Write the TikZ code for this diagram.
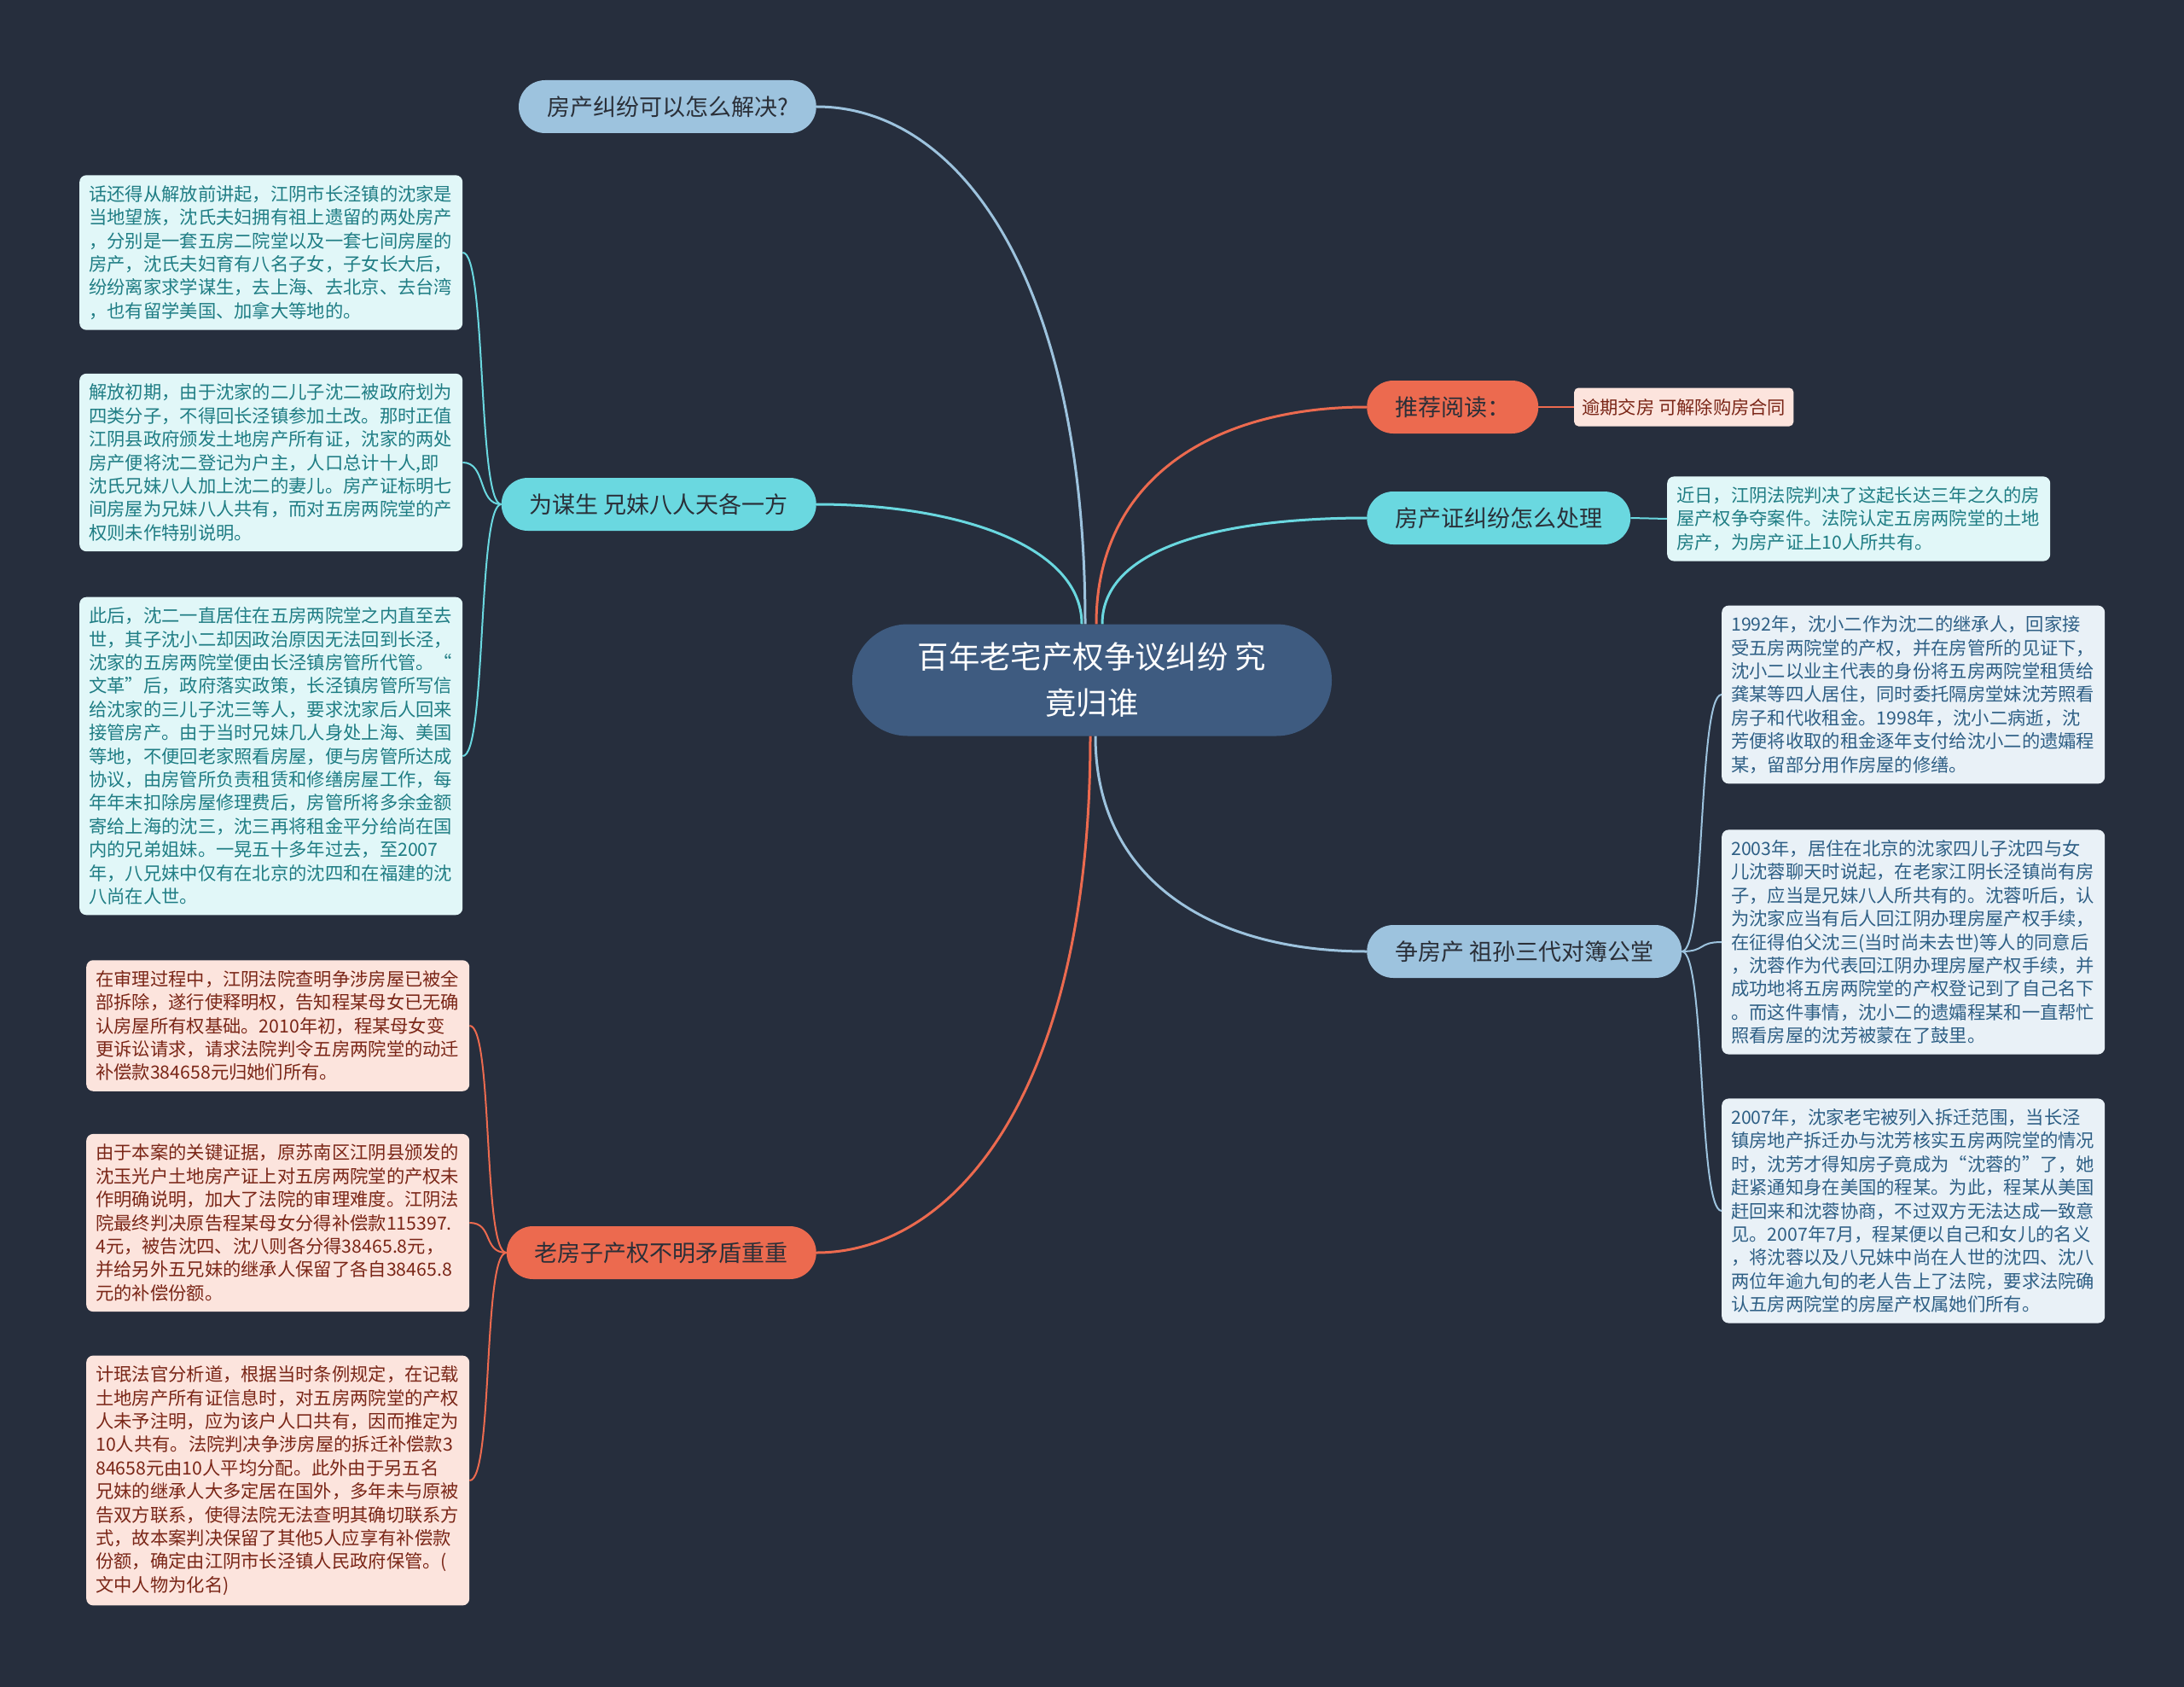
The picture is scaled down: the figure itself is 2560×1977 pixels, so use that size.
\documentclass[tikz,border=0pt]{standalone}
\usepackage{fontspec}
\setmainfont{Noto Sans CJK SC}
\usepackage{tikz}
\usetikzlibrary{calc}

\definecolor{bgdark}{HTML}{262E3D}
\definecolor{rootblue}{HTML}{3E5B80}
\definecolor{lblue}{HTML}{9DC3DE}
\definecolor{cyanb}{HTML}{6AD8E0}
\definecolor{orangeb}{HTML}{EC6A4F}
\definecolor{leafcyan}{HTML}{E1F7F8}
\definecolor{textcyan}{HTML}{1F7D84}
\definecolor{leafred}{HTML}{FCE4DD}
\definecolor{textred}{HTML}{7A2617}
\definecolor{leafblue}{HTML}{E9F1F7}
\definecolor{textblue}{HTML}{2E5F85}
\definecolor{inkdark}{HTML}{2A2F38}

\newcommand{\leaffont}{\fontsize{21.3}{27.4}\selectfont}
\newcommand{\branchfont}{\fontsize{27}{32}\selectfont}
\newcommand{\rootfont}{\fontsize{36.4}{54}\selectfont}
\newcommand{\linkfont}{\fontsize{21.3}{26}\selectfont}

\begin{document}
\begin{tikzpicture}[x=1pt,y=-1pt,
  line cap=round,
  line join=round,
  every node/.style={font=\leaffont},
  rootbox/.style={rectangle,rounded corners=65pt,fill=rootblue,text=white,
    minimum width=562pt,minimum height=131pt,align=center,font=\rootfont},
  branch/.style={rectangle,rounded corners=31pt,minimum height=62pt,
    inner xsep=33pt,inner ysep=0pt,font=\branchfont,text=inkdark},
  leaf/.style={rectangle,rounded corners=8pt,text width=427pt,align=left,
    inner xsep=11pt,inner ysep=12pt,font=\leaffont},
  mainline/.style={line width=3pt,line cap=butt},
  leafline/.style={line width=2pt,line cap=butt}]

  % 背景
  \fill[bgdark] (0,0) rectangle (2560,1977);
  \useasboundingbox (0,0) rectangle (2560,1977);

  % 中心
  \node[rootbox] (root) at (1280,797) {百年老宅产权争议纠纷 究\\竟归谁};

  % 左の枝
  \node[branch,fill=lblue,anchor=east] (q1) at (957,125) {房产纠纷可以怎么解决?};
  \node[branch,fill=cyanb,anchor=east] (b2) at (957,591) {为谋生 兄妹八人天各一方};
  \node[branch,fill=orangeb,anchor=east] (b3) at (957,1468) {老房子产权不明矛盾重重};

  % 右の枝
  \node[branch,fill=orangeb,anchor=west] (b4) at (1602,477) {推荐阅读：};
  \node[branch,fill=cyanb,anchor=west] (b5) at (1602,607) {房产证纠纷怎么处理};
  \node[branch,fill=lblue,anchor=west] (b6) at (1602,1115) {争房产 祖孙三代对簿公堂};

  % 左上の葉
  \node[leaf,fill=leafcyan,text=textcyan,anchor=west] (c1) at (93,296) {%
话还得从解放前讲起，江阴市长泾镇的沈家是\\
当地望族，沈氏夫妇拥有祖上遗留的两处房产\\
，分别是一套五房二院堂以及一套七间房屋的\\
房产，沈氏夫妇育有八名子女，子女长大后，\\
纷纷离家求学谋生，去上海、去北京、去台湾\\
，也有留学美国、加拿大等地的。};
  \node[leaf,fill=leafcyan,text=textcyan,anchor=west] (c2) at (93,542) {%
解放初期，由于沈家的二儿子沈二被政府划为\\
四类分子，不得回长泾镇参加土改。那时正值\\
江阴县政府颁发土地房产所有证，沈家的两处\\
房产便将沈二登记为户主，人口总计十人,即\\
沈氏兄妹八人加上沈二的妻儿。房产证标明七\\
间房屋为兄妹八人共有，而对五房两院堂的产\\
权则未作特别说明。};
  \node[leaf,fill=leafcyan,text=textcyan,anchor=west] (c3) at (93,886) {%
此后，沈二一直居住在五房两院堂之内直至去\\
世，其子沈小二却因政治原因无法回到长泾，\\
沈家的五房两院堂便由长泾镇房管所代管。“\\
文革”后，政府落实政策，长泾镇房管所写信\\
给沈家的三儿子沈三等人，要求沈家后人回来\\
接管房产。由于当时兄妹几人身处上海、美国\\
等地，不便回老家照看房屋，便与房管所达成\\
协议，由房管所负责租赁和修缮房屋工作，每\\
年年末扣除房屋修理费后，房管所将多余金额\\
寄给上海的沈三，沈三再将租金平分给尚在国\\
内的兄弟姐妹。一晃五十多年过去，至2007\\
年，八兄妹中仅有在北京的沈四和在福建的沈\\
八尚在人世。};

  % 左下の葉
  \node[leaf,fill=leafred,text=textred,anchor=west] (r1) at (101,1202) {%
在审理过程中，江阴法院查明争涉房屋已被全\\
部拆除，遂行使释明权，告知程某母女已无确\\
认房屋所有权基础。2010年初，程某母女变\\
更诉讼请求，请求法院判令五房两院堂的动迁\\
补偿款384658元归她们所有。};
  \node[leaf,fill=leafred,text=textred,anchor=west] (r2) at (101,1433) {%
由于本案的关键证据，原苏南区江阴县颁发的\\
沈玉光户土地房产证上对五房两院堂的产权未\\
作明确说明，加大了法院的审理难度。江阴法\\
院最终判决原告程某母女分得补偿款115397.\\
4元，被告沈四、沈八则各分得38465.8元，\\
并给另外五兄妹的继承人保留了各自38465.8\\
元的补偿份额。};
  \node[leaf,fill=leafred,text=textred,anchor=west] (r3) at (101,1735) {%
计珉法官分析道，根据当时条例规定，在记载\\
土地房产所有证信息时，对五房两院堂的产权\\
人未予注明，应为该户人口共有，因而推定为\\
10人共有。法院判决争涉房屋的拆迁补偿款3\\
84658元由10人平均分配。此外由于另五名\\
兄妹的继承人大多定居在国外，多年未与原被\\
告双方联系，使得法院无法查明其确切联系方\\
式，故本案判决保留了其他5人应享有补偿款\\
份额，确定由江阴市长泾镇人民政府保管。(\\
文中人物为化名)};

  % 右の葉
  \node[rectangle,rounded corners=5pt,fill=leafred,text=textred,font=\linkfont,
    inner xsep=9pt,minimum height=45pt,anchor=west] (lk) at (1845,477)
    {逾期交房 可解除购房合同};
  \node[leaf,fill=leafcyan,text=textcyan,anchor=west] (nd) at (1954,608) {%
近日，江阴法院判决了这起长达三年之久的房\\
屋产权争夺案件。法院认定五房两院堂的土地\\
房产，为房产证上10人所共有。};

  \node[leaf,fill=leafblue,text=textblue,anchor=west] (s1) at (2018,814) {%
1992年，沈小二作为沈二的继承人，回家接\\
受五房两院堂的产权，并在房管所的见证下，\\
沈小二以业主代表的身份将五房两院堂租赁给\\
龚某等四人居住，同时委托隔房堂妹沈芳照看\\
房子和代收租金。1998年，沈小二病逝，沈\\
芳便将收取的租金逐年支付给沈小二的遗孀程\\
某，留部分用作房屋的修缮。};
  \node[leaf,fill=leafblue,text=textblue,anchor=west] (s2) at (2018,1104) {%
2003年，居住在北京的沈家四儿子沈四与女\\
儿沈蓉聊天时说起，在老家江阴长泾镇尚有房\\
子，应当是兄妹八人所共有的。沈蓉听后，认\\
为沈家应当有后人回江阴办理房屋产权手续，\\
在征得伯父沈三(当时尚未去世)等人的同意后\\
，沈蓉作为代表回江阴办理房屋产权手续，并\\
成功地将五房两院堂的产权登记到了自己名下\\
。而这件事情，沈小二的遗孀程某和一直帮忙\\
照看房屋的沈芳被蒙在了鼓里。};
  \node[leaf,fill=leafblue,text=textblue,anchor=west] (s3) at (2018,1419) {%
2007年，沈家老宅被列入拆迁范围，当长泾\\
镇房地产拆迁办与沈芳核实五房两院堂的情况\\
时，沈芳才得知房子竟成为“沈蓉的”了，她\\
赶紧通知身在美国的程某。为此，程某从美国\\
赶回来和沈蓉协商，不过双方无法达成一致意\\
见。2007年7月，程某便以自己和女儿的名义\\
，将沈蓉以及八兄妹中尚在人世的沈四、沈八\\
两位年逾九旬的老人告上了法院，要求法院确\\
认五房两院堂的房屋产权属她们所有。};

  % 中心から枝へ
  \draw[mainline,lblue] ($(root.north)+(-8,0)$)
    .. controls +(0,-400) and +(170,0) .. (q1.east);
  \draw[mainline,cyanb] ($(root.north)+(-12,0)$)
    .. controls +(0,-90) and +(170,0) .. (b2.east);
  \draw[mainline,orangeb] ($(root.south)+(-2,0)$)
    .. controls +(0,420) and +(160,0) .. (b3.east);
  \draw[mainline,orangeb] ($(root.north)+(5,0)$)
    .. controls +(0,-170) and +(-180,0) .. (b4.west);
  \draw[mainline,cyanb] ($(root.north)+(12,0)$)
    .. controls +(0,-90) and +(-170,0) .. (b5.west);
  \draw[mainline,lblue] ($(root.south)+(4,0)$)
    .. controls +(0,170) and +(-180,0) .. (b6.west);

  % 枝から葉へ
  \draw[leafline,cyanb] (b2.west) .. controls +(-28,0) and +(28,0) .. (c1.east);
  \draw[leafline,cyanb] (b2.west) .. controls +(-28,0) and +(28,0) .. (c2.east);
  \draw[leafline,cyanb] (b2.west) .. controls +(-28,0) and +(28,0) .. (c3.east);

  \draw[leafline,orangeb] (b3.west) .. controls +(-28,0) and +(28,0) .. (r1.east);
  \draw[leafline,orangeb] (b3.west) .. controls +(-28,0) and +(28,0) .. (r2.east);
  \draw[leafline,orangeb] (b3.west) .. controls +(-28,0) and +(28,0) .. (r3.east);

  \draw[leafline,orangeb] (b4.east) -- (lk.west);
  \draw[leafline,cyanb] (b5.east) -- (nd.west);

  \draw[leafline,lblue] (b6.east) .. controls +(28,0) and +(-28,0) .. (s1.west);
  \draw[leafline,lblue] (b6.east) .. controls +(28,0) and +(-28,0) .. (s2.west);
  \draw[leafline,lblue] (b6.east) .. controls +(28,0) and +(-28,0) .. (s3.west);

\end{tikzpicture}
\end{document}
